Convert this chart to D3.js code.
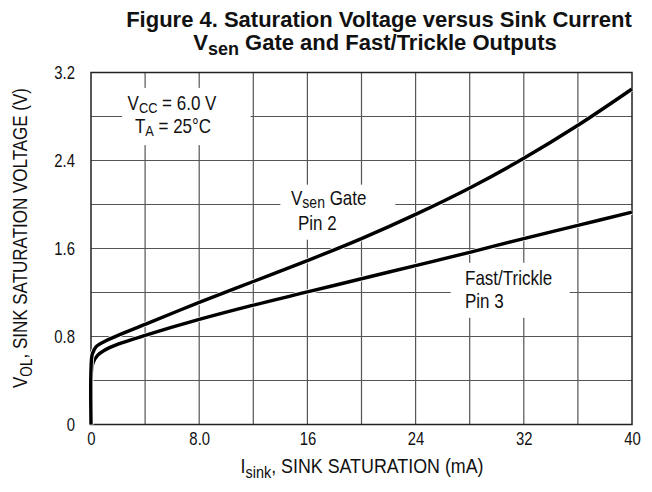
<!DOCTYPE html>
<html>
<head>
<meta charset="utf-8">
<script src="https://cdn.jsdelivr.net/npm/d3@7"></script>
<style>
    body { margin: 0; background: #fff; }
    text { font-family: "Liberation Sans", Arial, sans-serif; fill: #111; }
    .grid line { stroke: #555; stroke-width: 1.2; }
</style>
</head>
<body>
<script>

// Sink current (mA) and saturation voltage (V)
var gateCurrent = [0, 0, 0.1, 0.4, 1, 2, 4, 8, 12, 16, 20, 24, 28, 32, 36, 40];
var gateVoltage = [0, 0.5, 0.64, 0.71, 0.755, 0.81, 0.91, 1.11, 1.30, 1.49, 1.69, 1.91, 2.15, 2.42, 2.72, 3.05];

var fastCurrent = [0, 0, 0.15, 0.5, 1, 2, 4, 8, 12, 16, 20, 24, 28, 32, 36, 40];
var fastVoltage = [0, 0.42, 0.56, 0.63, 0.675, 0.73, 0.81, 0.955, 1.085, 1.205, 1.325, 1.445, 1.565, 1.69, 1.81, 1.93];

var xTicks = [0, 8, 16, 24, 32, 40];
var xTickLabels = ["0", "8.0", "16", "24", "32", "40"];
var yTicks = [0, 0.8, 1.6, 2.4, 3.2];
var yTickLabels = ["0", "0.8", "1.6", "2.4", "3.2"];

var w = 652, h = 492;
var margin = {top: 72.5, right: 20, bottom: 67.5, left: 91};
var narrow = 0.85;   // the figure's lettering is a condensed sans

var svg = d3.select("body").append("svg")
    .attr("width", w)
    .attr("height", h);

var xScale = d3.scaleLinear()
    .domain([0, 40])
    .range([margin.left, w - margin.right]);

var yScale = d3.scaleLinear()
    .domain([0, 3.2])
    .range([h - margin.bottom, margin.top]);

// condensed text: a group moved to (x, y) and squeezed sideways
function narrowText(parent, x, y, anchor, extra) {
    return parent.append("g")
        .attr("transform", "translate(" + x + "," + y + ")" + (extra || "") + " scale(" + narrow + ",1)")
        .append("text")
        .attr("text-anchor", anchor || "start");
}

// Grid, one line every 4 mA and every 0.4 V
var grid = svg.append("g").attr("class", "grid");

grid.selectAll("line.v")
    .data(d3.range(4, 40, 4))
    .enter()
    .append("line")
    .attr("class", "v")
    .attr("x1", function(d) { return xScale(d); })
    .attr("x2", function(d) { return xScale(d); })
    .attr("y1", yScale(0))
    .attr("y2", yScale(3.2));

grid.selectAll("line.h")
    .data(d3.range(0.4, 3.2, 0.4))
    .enter()
    .append("line")
    .attr("class", "h")
    .attr("x1", xScale(0))
    .attr("x2", xScale(40))
    .attr("y1", function(d) { return yScale(d); })
    .attr("y2", function(d) { return yScale(d); });

// White patches behind the labels, in data units
var patches = [
    {x0: 2.3, x1: 11.8, y0: 2.54, y1: 3.06},
    {x0: 14.0, x1: 22.5, y0: 1.68, y1: 2.18},
    {x0: 26.6, x1: 35.4, y0: 0.97, y1: 1.47}
];

svg.selectAll("rect.patch")
    .data(patches)
    .enter()
    .append("rect")
    .attr("class", "patch")
    .attr("x", function(d) { return xScale(d.x0); })
    .attr("y", function(d) { return yScale(d.y1); })
    .attr("width", function(d) { return xScale(d.x1) - xScale(d.x0); })
    .attr("height", function(d) { return yScale(d.y0) - yScale(d.y1); })
    .attr("fill", "#fff");

// Frame
svg.append("rect")
    .attr("x", xScale(0))
    .attr("y", yScale(3.2))
    .attr("width", xScale(40) - xScale(0))
    .attr("height", yScale(0) - yScale(3.2))
    .attr("fill", "none")
    .attr("stroke", "#222")
    .attr("stroke-width", 1.5);

// Axes (labels only, the frame carries the lines)
var xAxis = d3.axisBottom(xScale)
    .tickValues(xTicks)
    .tickSize(0)
    .tickPadding(8)
    .tickFormat(function(d, i) { return xTickLabels[i]; });

var yAxis = d3.axisLeft(yScale)
    .tickValues(yTicks)
    .tickSize(0)
    .tickPadding(16 / narrow)
    .tickFormat(function(d, i) { return yTickLabels[i]; });

svg.append("g")
    .attr("class", "x axis")
    .attr("transform", "translate(0," + yScale(0) + ")")
    .call(xAxis)
    .call(function(g) { g.select(".domain").remove(); });

svg.append("g")
    .attr("class", "y axis")
    .attr("transform", "translate(" + xScale(0) + ",0)")
    .call(yAxis)
    .call(function(g) { g.select(".domain").remove(); });

svg.selectAll(".tick text")
    .attr("fill", "#111")
    .attr("font-family", null)
    .attr("font-size", "17.5px")
    .attr("transform", "scale(" + narrow + ",1)");

// Curves
var line = d3.line()
    .x(function(d) { return xScale(d[0]); })
    .y(function(d) { return yScale(d[1]); })
    .curve(d3.curveCatmullRom.alpha(0.5));

var series = [
    d3.zip(fastCurrent, fastVoltage),
    d3.zip(gateCurrent, gateVoltage)
];

series.forEach(function(s) {
    svg.append("path")
        .attr("d", line(s))
        .attr("fill", "none")
        .attr("stroke", "#fff")
        .attr("stroke-width", 5);
    svg.append("path")
        .attr("d", line(s))
        .attr("fill", "none")
        .attr("stroke", "#000")
        .attr("stroke-width", 3.4);
});

// Title
var title = svg.append("text")
    .attr("text-anchor", "middle")
    .attr("font-weight", "bold")
    .attr("font-size", "22px");

title.append("tspan")
    .attr("x", 379)
    .attr("y", 27)
    .text("Figure 4. Saturation Voltage versus Sink Current");

var title2 = title.append("tspan")
    .attr("x", 375)
    .attr("y", 50);
title2.append("tspan").text("V");
title2.append("tspan").attr("font-size", "18px").attr("dy", 5).text("sen");
title2.append("tspan").attr("dy", -5).text(" Gate and Fast/Trickle Outputs");

// Axis titles
var xTitle = narrowText(svg, 362, 473, "middle").attr("font-size", "21px");
xTitle.append("tspan").text("I");
xTitle.append("tspan").attr("font-size", "17px").attr("dy", 5).text("sink");
xTitle.append("tspan").attr("dy", -5).text(", SINK SATURATION (mA)");

var yTitle = narrowText(svg, 27, 238, "middle", " rotate(-90)").attr("font-size", "20px");
yTitle.append("tspan").text("V");
yTitle.append("tspan").attr("font-size", "16px").attr("dy", 5).text("OL");
yTitle.append("tspan").attr("dy", -5).text(", SINK SATURATION VOLTAGE (V)");

// Annotations
var note = svg.append("g").attr("font-size", "20px");

var vcc = narrowText(note, 172, 110, "middle");
vcc.append("tspan").text("V");
vcc.append("tspan").attr("font-size", "15px").attr("dy", 3).text("CC");
vcc.append("tspan").attr("dy", -3).text(" = 6.0 V");

var ta = narrowText(note, 173, 133, "middle");
ta.append("tspan").text("T");
ta.append("tspan").attr("font-size", "15px").attr("dy", 3).text("A");
ta.append("tspan").attr("dy", -3).text(" = 25\u00B0C");

var gate = narrowText(note, 291, 205);
gate.append("tspan").text("V");
gate.append("tspan").attr("font-size", "16.5px").attr("dy", 3).text("sen");
gate.append("tspan").attr("dy", -3).text(" Gate");
narrowText(note, 298, 230).text("Pin 2");

narrowText(note, 465, 285).text("Fast/Trickle");
narrowText(note, 465, 308).text("Pin 3");

</script>
</body>
</html>
